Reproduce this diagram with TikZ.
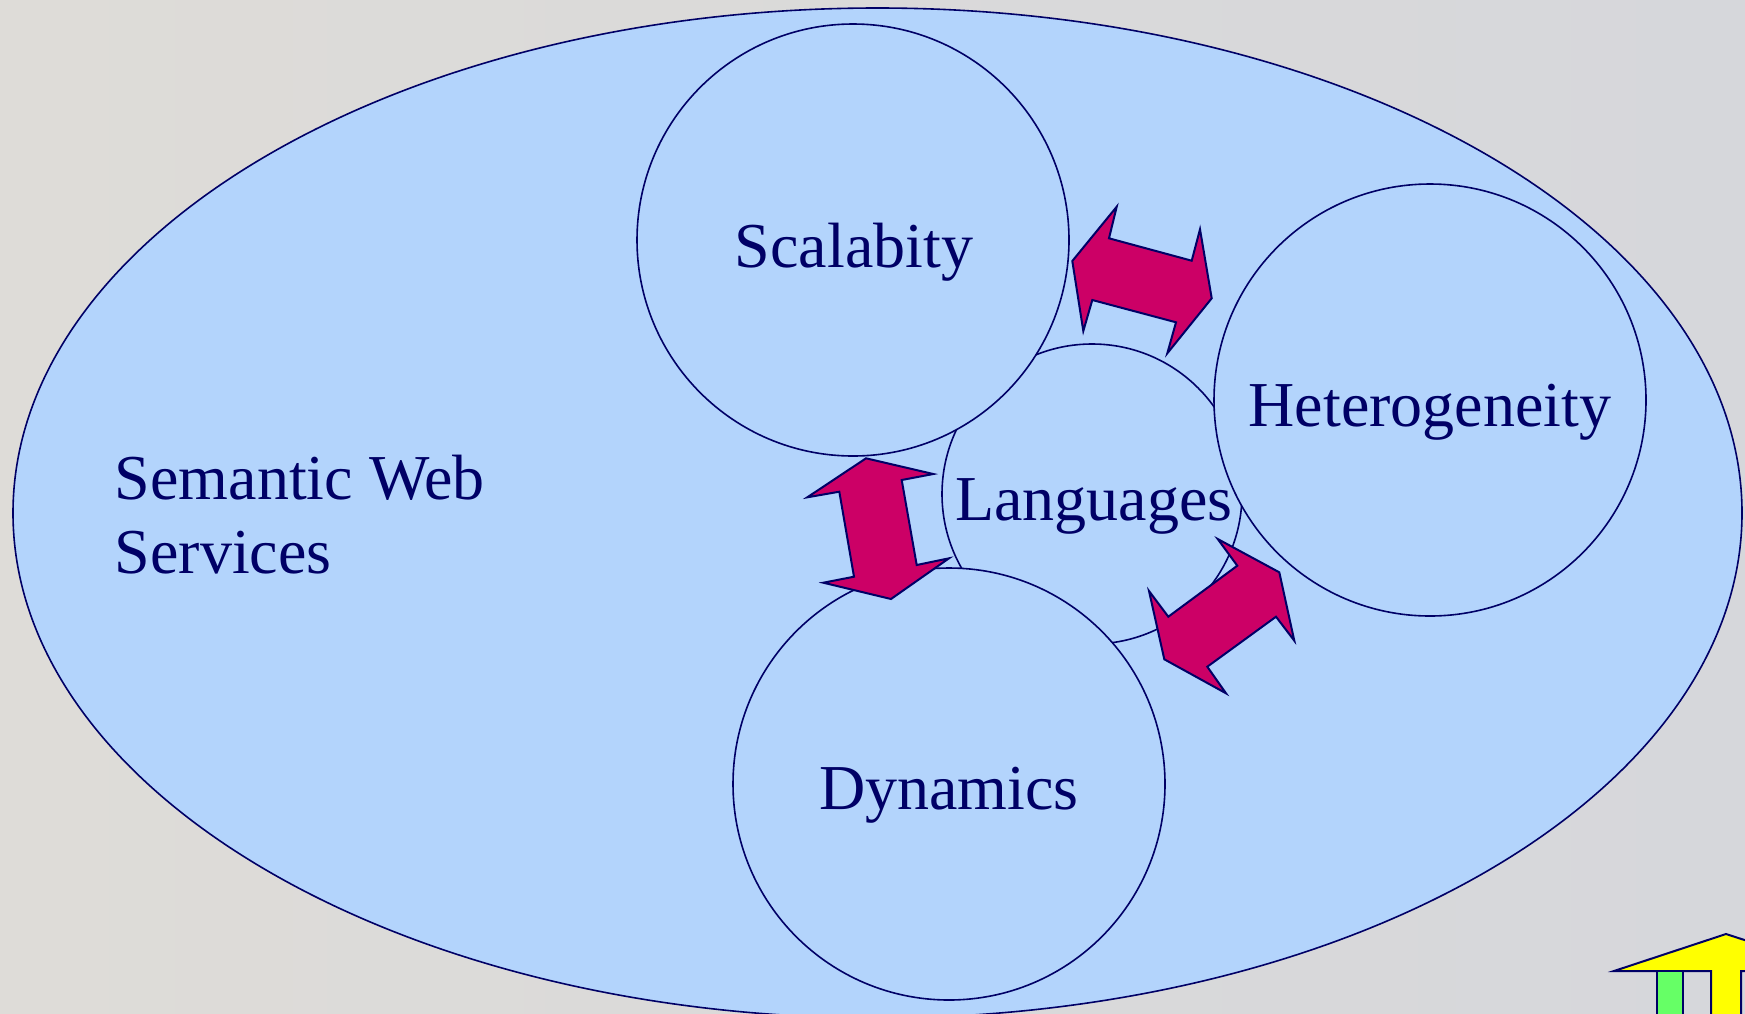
\documentclass[tikz,border=0pt]{standalone}
\usepackage{fontspec}
\setmainfont{Liberation Serif}
\usetikzlibrary{shapes.geometric}

\definecolor{bubble}{RGB}{179,212,252}
\definecolor{ink}{RGB}{0,0,102}
\definecolor{arrowfill}{RGB}{204,0,102}
\definecolor{bgA}{RGB}{222,220,216}
\definecolor{bgB}{RGB}{214,215,219}
\definecolor{roof}{RGB}{255,255,0}
\definecolor{pillar}{RGB}{102,255,102}

\tikzset{
  bubble/.style={circle, draw=ink, line width=1.6pt, fill=bubble,
                 minimum size=432pt, inner sep=0pt},
  label/.style={text=ink, font=\fontsize{64}{75}\selectfont, inner sep=0pt},
  blockarrow/.style={draw=ink, line width=2pt, fill=arrowfill, line join=miter},
  iconpart/.style={draw=ink, line width=2pt, line join=miter},
}

\begin{document}
\begin{tikzpicture}[x=1pt, y=-1pt]
  % canvas
  \path[use as bounding box] (0,0) rectangle (1745,1013);
  \clip (0,0) rectangle (1745,1013);
  \shade[left color=bgA, right color=bgB] (0,0) rectangle (1745,1013);

  % outer domain
  \node[ellipse, draw=ink, line width=1.6pt, fill=bubble,
        minimum width=1729pt, minimum height=1010pt, inner sep=0pt]
        (sws) at (877.5,513) {};

  % central circle, partly hidden by the three big ones
  \node[bubble, minimum size=300pt] (lang) at (1092,494) {};

  % the three challenges
  \node[bubble] (scal) at (853,240) {};
  \node[bubble] (het)  at (1430,400) {};
  \node[bubble] (dyn)  at (949,784) {};

  % double-headed block arrows between the challenges
  \draw[blockarrow] (1072.3,261) -- (1116.7,206.7) -- (1109,238.3)
        -- (1191.7,260.7) -- (1200,229.3) -- (1211.7,298.3)
        -- (1167.3,353.3) -- (1176,322.3) -- (1092.3,300)
        -- (1083.3,331) -- cycle;
  \draw[blockarrow] (866,458.3) -- (933.3,474) -- (901.7,480)
        -- (916.7,565) -- (949,558.3) -- (891,599)
        -- (823.3,582.7) -- (854,576.7) -- (839.3,491.7)
        -- (807.3,497.3) -- cycle;
  \draw[blockarrow] (1279.3,572.3) -- (1294.3,640.7) -- (1276,616.7)
        -- (1207.3,666.7) -- (1226,693.3) -- (1164.3,659.3)
        -- (1149,591) -- (1168.3,616.7) -- (1237.3,565.7)
        -- (1217.7,539) -- cycle;

  % labels
  \node[label, anchor=base west] (swsA) at (114.6,499) {Semantic Web};
  \node[label, anchor=base west] (swsB) at (114.6,573) {Services};
  \node[label, anchor=base] (scalT) at (854,267) {Scalabity};
  \node[label, anchor=base] (hetT)  at (1430,426) {Heterogeneity};
  \node[label, anchor=base] (langT) at (1094,520) {Languages};
  \node[label, anchor=base] (dynT)  at (949,809) {Dynamics};

  % corner logo
  \draw[iconpart, fill=roof] (1614,971) -- (1726,934) -- (1800,958)
        -- (1800,971) -- (1741,971) -- (1741,1030) -- (1711,1030)
        -- (1711,971) -- cycle;
  \draw[iconpart, fill=pillar] (1657.3,971) rectangle (1683.3,1030);
\end{tikzpicture}
\end{document}
